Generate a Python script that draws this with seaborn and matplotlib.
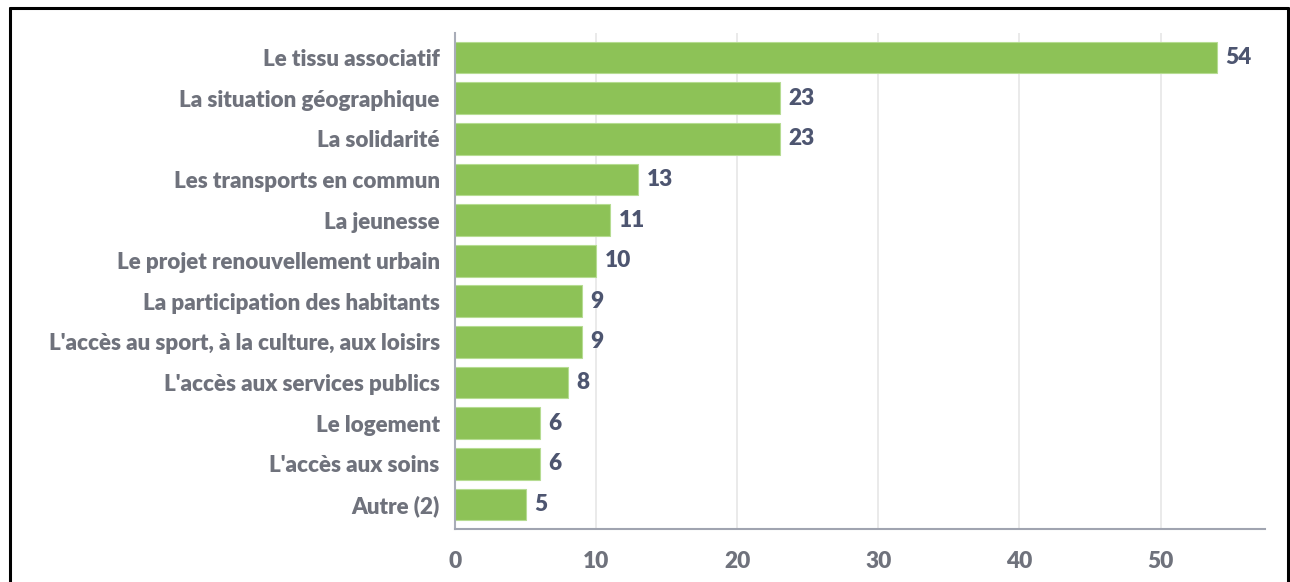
import pandas as pd
import seaborn as sns
import matplotlib.pyplot as plt
from matplotlib.lines import Line2D

categories = ['Le tissu associatif', 'La situation géographique', 'La solidarité',
              'Les transports en commun', 'La jeunesse', 'Le projet renouvellement urbain',
              'La participation des habitants', "L'accès au sport, à la culture, aux loisirs",
              "L'accès aux services publics", 'Le logement', "L'accès aux soins", 'Autre (2)']
values = [54, 23, 23, 13, 11, 10, 9, 9, 8, 6, 6, 5]

df = pd.DataFrame({'cat': categories, 'val': values})

sns.set_style('white')
plt.rcParams['font.family'] = ['Lato', 'DejaVu Sans']

fig = plt.figure(figsize=(12.9, 5.82), dpi=100)
ax = fig.add_axes([455 / 1290, 53 / 582, 810 / 1290, 496 / 582])

sns.barplot(data=df, y='cat', x='val', color='#8dc257', saturation=1, width=0.78,
            orient='h', edgecolor='#b6dc92', linewidth=0.8, ax=ax, zorder=2)

for i, v in enumerate(values):
    ax.text(v + 0.6, i, str(v), va='center', ha='left', fontsize=16.3,
            fontweight='heavy', color='#4d5570')

ax.set_xlim(0, 57.4)
ax.set_ylim(11.6, -0.6)
ax.set_xticks([0, 10, 20, 30, 40, 50])
ax.xaxis.grid(True, color='#e6e6e6', linewidth=1.2, zorder=0)
ax.set_axisbelow(True)
ax.set_xlabel('')
ax.set_ylabel('')
ax.tick_params(axis='x', length=0, pad=16, labelsize=16.3, labelcolor='#6f727c')
ax.tick_params(axis='y', length=0, pad=11, labelsize=16.1, labelcolor='#6f727c')
for lab in ax.get_xticklabels() + ax.get_yticklabels():
    lab.set_fontweight('heavy')
for s in ['top', 'right']:
    ax.spines[s].set_visible(False)
ax.spines['left'].set_color('#a9adb8')
ax.spines['bottom'].set_color('#a0a4b0')
ax.spines['left'].set_linewidth(1.5)
ax.spines['bottom'].set_linewidth(1.5)

# black frame around figure (bottom edge cut off)
fig.add_artist(Line2D([10 / 1290, 10 / 1290], [0, 1 - 8 / 582], color='black', lw=2.2))
fig.add_artist(Line2D([10 / 1290, 1288 / 1290], [1 - 8 / 582, 1 - 8 / 582], color='black', lw=2.2))
fig.add_artist(Line2D([1288 / 1290, 1288 / 1290], [0, 1 - 8 / 582], color='black', lw=2.2))

fig.savefig('out.png', dpi=100)
